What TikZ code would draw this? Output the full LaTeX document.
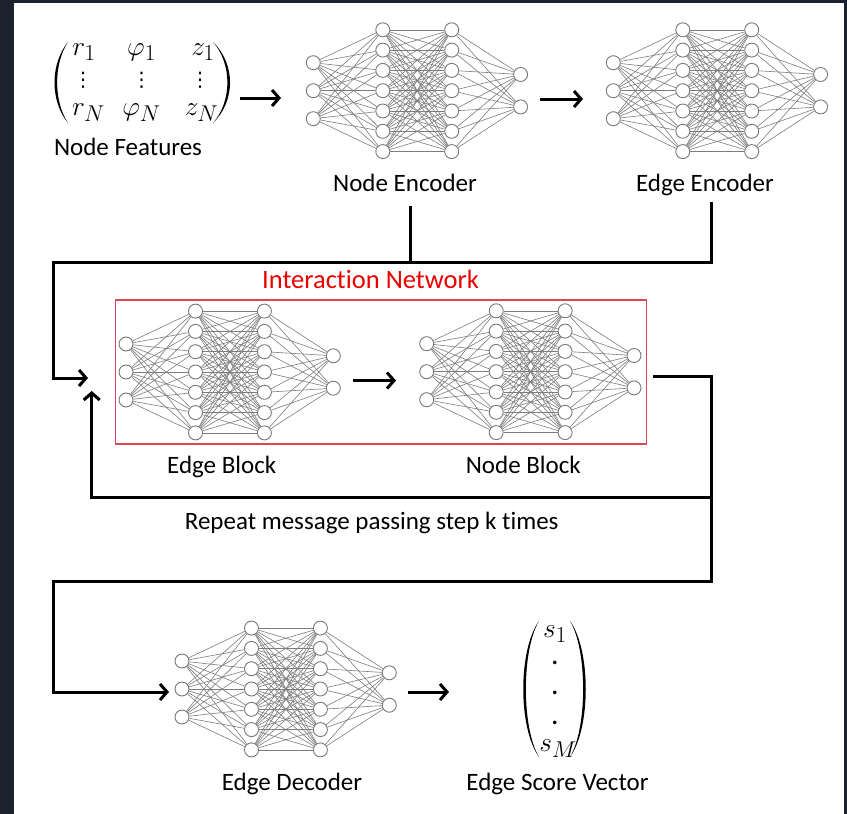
\documentclass[tikz,border=0pt]{standalone}
\usepackage{graphicx}
\usepackage{fontspec}
\setmainfont{Carlito}[Ligatures=NoCommon]
\newfontfamily\dejavu{DejaVu Sans}
\usetikzlibrary{arrows.meta}
\definecolor{framec}{RGB}{27,33,45}
\definecolor{boxred}{RGB}{220,72,82}
\definecolor{txtred}{RGB}{235,0,0}
\definecolor{neurc}{RGB}{120,120,120}
\definecolor{sync}{RGB}{125,125,125}
\newcommand{\mscale}[1]{\scalebox{1.1}{#1}}
\tikzset{
  neuron/.style={circle, draw=neurc, fill=white, line width=0.9pt, minimum size=14pt, inner sep=0pt},
  synapse/.style={draw=sync, line width=0.6pt},
  lbl/.style={font=\fontsize{25}{29}\selectfont, inner sep=0pt, anchor=base},
  mth/.style={font=\fontsize{24.88}{28}\selectfont, inner sep=0pt, anchor=base},
  vdt/.style={font=\dejavu\fontsize{20}{22}\selectfont, inner sep=0pt},
  dotn/.style={font=\fontsize{30}{34}\selectfont, inner sep=0pt},
  flow/.style={line width=3pt, line join=miter},
  arr/.style={flow, -{Straight Barb[length=7pt, width=16pt]}},
  paren/.style={fill=black},
}
% #1 name, #2 x of input layer, #3 centre y
\newcommand{\mlpnet}[3]{%
  \foreach \i in {1,2,3}{\node[neuron] (#1-a\i) at ({#2}, {#3+28*(\i-2)}) {};}
  \foreach \i in {1,...,7}{\node[neuron] (#1-b\i) at ({#2+69.5}, {#3+20.3*(\i-4)}) {};}
  \foreach \i in {1,...,7}{\node[neuron] (#1-c\i) at ({#2+138.4}, {#3+20.3*(\i-4)}) {};}
  \foreach \i in {1,2}{\node[neuron] (#1-d\i) at ({#2+207.3}, {#3+32.4*(\i-1.5)}) {};}
  \foreach \i in {1,2,3}{\foreach \j in {1,...,7}{\draw[synapse] (#1-a\i) -- (#1-b\j);}}
  \foreach \i in {1,...,7}{\foreach \j in {1,...,7}{\draw[synapse] (#1-b\i) -- (#1-c\j);}}
  \foreach \i in {1,...,7}{\foreach \j in {1,2}{\draw[synapse] (#1-c\i) -- (#1-d\j);}}
}
\begin{document}
\begin{tikzpicture}[x=1pt, y=-1pt]
\useasboundingbox (0,0) rectangle (847,814);
\fill[framec] (0,0) rectangle (847,814);
\fill[white] (14,3) rectangle (844,814);

% ---------- node features matrix ----------
\node[mth] (r1) at (84,55) {\mscale{$r_1$}};
\node[mth] (p1) at (141.5,55) {\mscale{$\varphi_1$}};
\node[mth] (z1) at (203,55) {\mscale{$z_1$}};
\node[vdt] (v1) at (83,80) {⋮};
\node[vdt] (v2) at (141.5,80) {⋮};
\node[vdt] (v3) at (200,80) {⋮};
\node[mth] (rN) at (88.5,115) {\mscale{$r_N$}};
\node[mth] (pN) at (141.5,115) {\mscale{$\varphi_N$}};
\node[mth] (zN) at (201.5,115) {\mscale{$z_N$}};
\fill[paren] (68,42) .. controls (50,64) and (50,101) .. (68,123) .. controls (53.5,101) and (53.5,64) .. (68,42);
\fill[paren] (213,42) .. controls (235.7,64) and (235.7,101) .. (213,123) .. controls (232.2,101) and (232.2,64) .. (213,42);
\node[lbl] (nf) at (128,155) {Node Features};

% ---------- encoders ----------
\mlpnet{ne}{313.3}{90.7}
\mlpnet{ee}{613.3}{90.7}
\node[lbl] (nelbl) at (405,191) {Node Encoder};
\node[lbl] (eelbl) at (705,191) {Edge Encoder};

\coordinate (mA) at (240,98);  \coordinate (mB) at (281,98);
\draw[arr] (mA) -- (mB);
\coordinate (eA) at (540,99);  \coordinate (eB) at (583,99);
\draw[arr] (eA) -- (eB);

% ---------- merge into interaction network ----------
\coordinate (neo) at (410,206); \coordinate (nej) at (410,262);
\coordinate (eeo) at (711,202); \coordinate (eej) at (711,262);
\coordinate (lc)  at (53,262);  \coordinate (lb) at (53,378);
\coordinate (inA) at (88,378);
\draw[flow] (neo) -- (nej);
\draw[arr] (eeo) -- (eej) -- (lc) -- (lb) -- (inA);

% ---------- interaction network ----------
\node[txtred, font=\fontsize{26.5}{30}\selectfont, inner sep=0pt, anchor=base] (intlbl) at (370.5,288) {Interaction Network};
\node[draw=boxred, line width=1.5pt, minimum width=531pt, minimum height=144pt, inner sep=0pt] (ibox) at (381.2,372) {};
\mlpnet{eb}{126}{372}
\mlpnet{nb}{426.7}{371.7}
\node[lbl] (eblbl) at (221.7,473) {Edge Block};
\node[lbl] (nblbl) at (523.3,473) {Node Block};
\coordinate (bA) at (353,380.5); \coordinate (bB) at (396,380.5);
\draw[arr] (bA) -- (bB);

% ---------- loop and output ----------
\coordinate (nbo) at (653,376); \coordinate (rc) at (711,376);
\coordinate (rj) at (711,497);  \coordinate (rd) at (711,581);
\coordinate (ld) at (53,581);   \coordinate (ldb) at (53,692);
\coordinate (dA) at (169,692);
\draw[arr] (nbo) -- (rc) -- (rd) -- (ld) -- (ldb) -- (dA);
\coordinate (lp) at (91.7,497); \coordinate (upA) at (91.7,391);
\draw[arr] (rj) -- (lp) -- (upA);
\node[lbl] (rep) at (371.7,529.3) {Repeat message passing step k times};

% ---------- decoder ----------
\mlpnet{ed}{182}{689}
\node[lbl] (edlbl) at (292,790) {Edge Decoder};
\coordinate (sA) at (408,692); \coordinate (sB) at (449,692);
\draw[arr] (sA) -- (sB);

% ---------- score vector ----------
\node[mth] (s1) at (555,637) {\mscale{$s_1$}};
\node[dotn] (d1) at (555,663) {.};
\node[dotn] (d2) at (555,692.7) {.};
\node[dotn] (d3) at (555,722.7) {.};
\node[mth] (sM) at (558,751.5) {\mscale{$s_M$}};
\fill[paren] (539,621) .. controls (518,650) and (518,728) .. (539,757) .. controls (521.5,728) and (521.5,650) .. (539,621);
\fill[paren] (570,621) .. controls (591,650) and (591,728) .. (570,757) .. controls (587.5,728) and (587.5,650) .. (570,621);
\node[lbl] (svlbl) at (557.5,790) {Edge Score Vector};
\end{tikzpicture}
\end{document}
